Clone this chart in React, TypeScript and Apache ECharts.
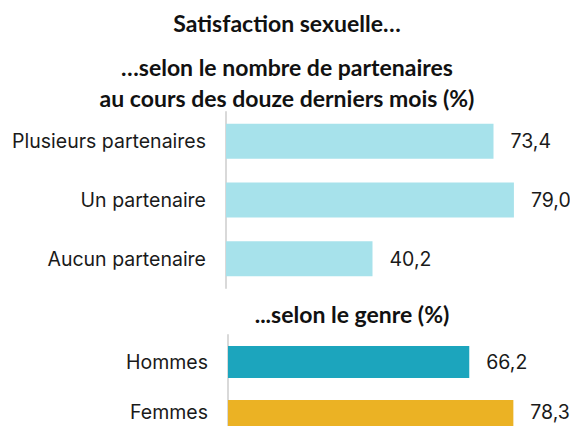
import React, { useEffect, useRef } from "react";
import * as echarts from "echarts";

const partnerCategories = ["Plusieurs partenaires", "Un partenaire", "Aucun partenaire"];
const partnerValues = [73.4, 79.0, 40.2];
const genderCategories = ["Hommes", "Femmes"];
const genderValues = [66.2, 78.3];
const genderColors = ["#1CA5BD", "#EBB224"];
const partnerColor = "#A7E2EB";

const titleMain = "Satisfaction sexuelle…";
const titlePartners = "…selon le nombre de partenaires";
const titlePartners2 = "au cours des douze derniers mois (%)";
const titleGender = "...selon le genre (%)";

const fmt = (v: number) => v.toFixed(1).replace(".", ",");

export default function App() {
  const ref = useRef<HTMLDivElement>(null);
  useEffect(() => {
    if (!ref.current) return;
    const chart = echarts.init(ref.current, undefined, { renderer: "svg" });
    const titleFont = "Lato, 'Open Sans', sans-serif";
    const labelFont = "Inter, 'Noto Sans', sans-serif";
    const titleStyle = { fontFamily: titleFont, fontWeight: "bold" as const, fontSize: 23, color: "#111" };
    const labelSize = 19.5;
    const lastIdx = genderCategories.length - 1;
    chart.setOption({
      animation: false,
      backgroundColor: "#ffffff",
      title: [
        { text: titleMain, left: 282, top: 6, textAlign: "center", textStyle: titleStyle },
        { text: titlePartners, left: 282, top: 50, textAlign: "center", textStyle: titleStyle },
        { text: titlePartners2, left: 282, top: 81, textAlign: "center", textStyle: titleStyle },
        { text: titleGender, left: 347, top: 297, textAlign: "center", textStyle: titleStyle },
      ],
      grid: [
        { left: 226, top: 112, width: 328, height: 176 },
        { left: 228, top: 335, width: 328, height: 108 },
      ],
      xAxis: [
        { gridIndex: 0, type: "value", min: 0, max: 90, show: false },
        { gridIndex: 1, type: "value", min: 0, max: 90, show: false },
      ],
      yAxis: [
        {
          gridIndex: 0,
          type: "category",
          inverse: true,
          data: partnerCategories,
          axisLine: { show: true, lineStyle: { color: "#D9D9D9", width: 2 } },
          axisTick: { show: false },
          axisLabel: { fontFamily: labelFont, fontSize: labelSize, color: "#1a1a1a", margin: 20 },
        },
        {
          gridIndex: 1,
          type: "category",
          inverse: true,
          data: genderCategories,
          axisLine: { show: true, lineStyle: { color: "#D9D9D9", width: 2 } },
          axisTick: { show: false },
          axisLabel: {
            fontFamily: labelFont,
            fontSize: labelSize,
            color: "#1a1a1a",
            margin: 20,
            formatter: (v: string, i: number) => (i === lastIdx ? "{up|" + v + "}" : v),
            rich: {
              up: {
                fontFamily: labelFont,
                fontSize: labelSize,
                color: "#1a1a1a",
                lineHeight: 20,
                padding: [0, 0, 8, 0],
              },
            },
          },
        },
      ],
      series: [
        {
          type: "bar",
          xAxisIndex: 0,
          yAxisIndex: 0,
          data: partnerValues,
          barWidth: 35,
          itemStyle: { color: partnerColor },
          label: {
            show: true,
            position: "right",
            distance: 17,
            fontFamily: labelFont,
            fontSize: labelSize,
            color: "#1a1a1a",
            formatter: (p: any) => fmt(p.value),
          },
        },
        {
          type: "bar",
          xAxisIndex: 1,
          yAxisIndex: 1,
          data: genderValues.map((v, i) => ({
            value: v,
            itemStyle: { color: genderColors[i] },
            label: i === lastIdx ? { offset: [0, -4], lineHeight: 20 } : undefined,
          })),
          barWidth: 32,
          label: {
            show: true,
            position: "right",
            distance: 17,
            fontFamily: labelFont,
            fontSize: labelSize,
            color: "#1a1a1a",
            formatter: (p: any) => fmt(p.value),
          },
        },
      ],
    });
    return () => chart.dispose();
  }, []);
  return (
    <div style={{ width: 570, height: 426, position: "absolute", left: 0, top: 0, overflow: "hidden", background: "#fff" }}>
      <div ref={ref} style={{ width: 570, height: 470 }} />
    </div>
  );
}
